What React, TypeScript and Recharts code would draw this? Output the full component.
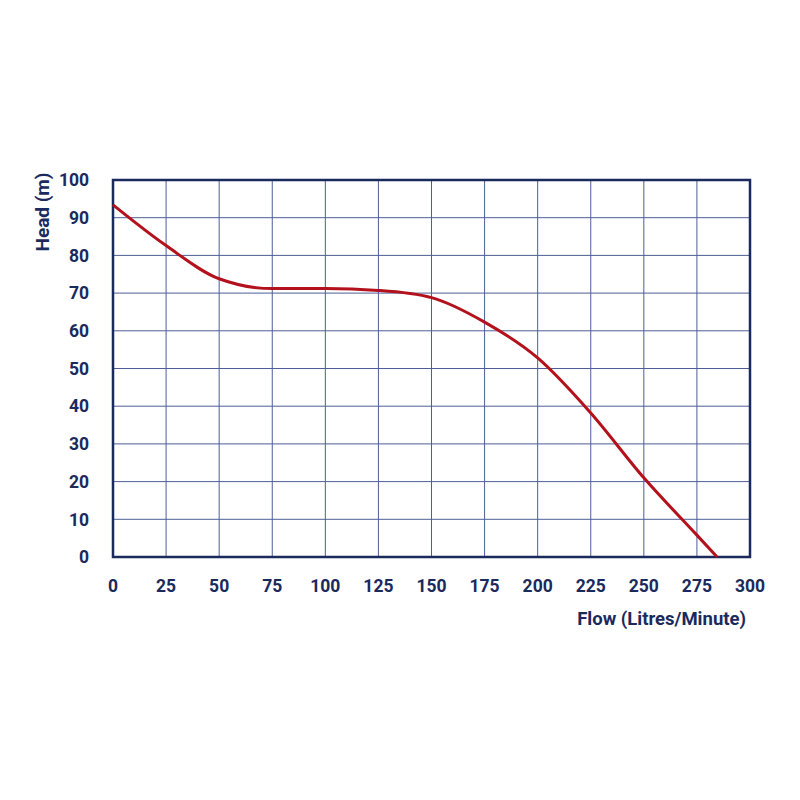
import React from 'react';
import { LineChart, Line, XAxis, YAxis, CartesianGrid, ReferenceArea } from 'recharts';

const flow = [0, 25, 50, 75, 100, 125, 150, 175, 200, 225, 250, 275, 284.5];
const head = [93.4, 82.6, 73.8, 71.2, 71.2, 70.7, 68.8, 62.3, 52.8, 38.2, 21, 5.8, 0];
const xTicks = [0, 25, 50, 75, 100, 125, 150, 175, 200, 225, 250, 275, 300];
const yTicks = [0, 10, 20, 30, 40, 50, 60, 70, 80, 90, 100];

const navy = '#1b2a5c';
const gridColor = '#4d5f96';
const curveRed = '#b3121c';
const font = 'Roboto, sans-serif';

const data = flow.map((f, i) => ({ flow: f, head: head[i] }));

export default function App() {
  const tickStyle = { fontSize: 17.5, fontWeight: 700, fill: navy, fontFamily: font };
  return (
    <div style={{ position: 'absolute', left: 0, top: 0, width: 800, height: 800, background: '#fff' }}>
      <LineChart width={800} height={800} data={data} margin={{ top: 180, right: 50, bottom: 213, left: 53 }}>
        <CartesianGrid stroke={gridColor} strokeWidth={1} horizontal vertical />
        <XAxis
          dataKey="flow"
          type="number"
          domain={[0, 300]}
          ticks={xTicks}
          tick={tickStyle}
          tickLine={false}
          axisLine={false}
          tickMargin={17}
          height={30}
          label={{
            content: (p: any) => {
              const vb = p.viewBox;
              return (
                <text x={746} y={vb.y + 68} textAnchor="end" fill={navy} fontSize={18.5} fontWeight={700} fontFamily={font}>
                  Flow (Litres/Minute)
                </text>
              );
            },
          }}
        />
        <YAxis
          dataKey="head"
          type="number"
          domain={[0, 100]}
          ticks={yTicks}
          tick={tickStyle}
          tickLine={false}
          axisLine={false}
          tickMargin={18}
          width={60}
          label={{
            content: () => (
              <text x={49} y={212} transform="rotate(-90 49 212)" textAnchor="middle" fill={navy} fontSize={19} fontWeight={700} fontFamily={font}>
                Head (m)
              </text>
            ),
          }}
        />
        <ReferenceArea x1={0} x2={300} y1={0} y2={100} fill="none" stroke={navy} strokeWidth={2.5} fillOpacity={0} />
        <Line
          type="monotone"
          dataKey="head"
          stroke={curveRed}
          strokeWidth={3}
          dot={false}
          isAnimationActive={false}
        />
      </LineChart>
    </div>
  );
}
